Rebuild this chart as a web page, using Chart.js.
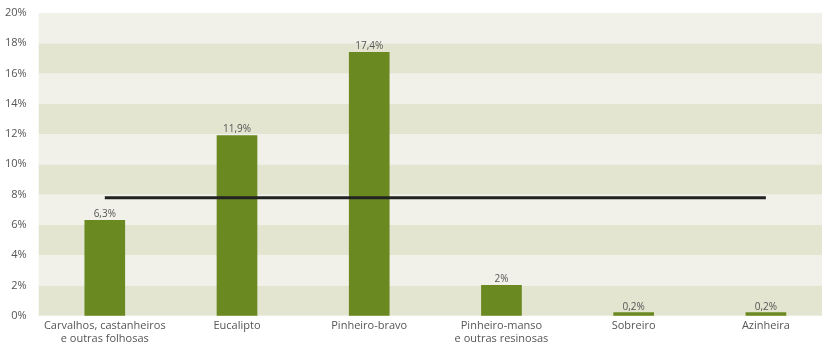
<!DOCTYPE html>
<html>
<head>
<meta charset="utf-8">
<script src="https://cdn.jsdelivr.net/npm/chart.js@4/dist/chart.umd.min.js"></script>
<style>
  html, body { margin: 0; padding: 0; background: #fff; overflow: hidden; }
  #wrap { width: 832px; height: 344px; }
</style>
</head>
<body>
<div id="wrap"><canvas id="grafico"></canvas></div>
<script>
const categorias = [
    ['Carvalhos, castanheiros', 'e outras folhosas'],
    'Eucalipto',
    'Pinheiro-bravo',
    ['Pinheiro-manso', 'e outras resinosas'],
    'Sobreiro',
    'Azinheira'
];
const valores = [6.3, 11.9, 17.4, 2, 0.2, 0.2];
const media = [7.8, 7.8, 7.8, 7.8, 7.8, 7.8];
const ticksY = [0, 2, 4, 6, 8, 10, 12, 14, 16, 18, 20];

const fonte = "'Open Sans', sans-serif";

function Formata(v){
    return String(v).replace('.', ',') + '%';
}

// faixas alternadas no fundo da area do grafico
const faixas = {
    id: 'faixas',
    beforeDraw(chart){
        const ctx = chart.ctx;
        const area = chart.chartArea;
        const y = chart.scales.y;
        ctx.save();
        for(let i = 0; i < ticksY.length - 1; i++){
            const topo = y.getPixelForValue(ticksY[i + 1]);
            const base = y.getPixelForValue(ticksY[i]);
            ctx.fillStyle = (i % 2 == 0) ? '#e3e5d0' : '#f1f1e9';
            ctx.fillRect(area.left, topo, area.right - area.left, base - topo);
        }
        ctx.restore();
    }
};

// rotulos com o valor por cima das barras
const rotulos = {
    id: 'rotulos',
    afterDatasetsDraw(chart){
        const ctx = chart.ctx;
        const meta = chart.getDatasetMeta(1);
        ctx.save();
        ctx.font = '10px ' + fonte;
        ctx.fillStyle = '#555';
        ctx.textAlign = 'center';
        ctx.textBaseline = 'bottom';
        meta.data.forEach(function(barra, i){
            ctx.fillText(Formata(valores[i]), barra.x, barra.y - 1);
        });
        ctx.restore();
    }
};

const ctx = document.getElementById('grafico');
new Chart(ctx, {
    data: {
        labels: categorias,
        datasets: [
            {
                type: 'line',
                data: media,
                borderColor: '#222',
                borderWidth: 3,
                pointRadius: 0,
                order: 0
            },
            {
                type: 'bar',
                data: valores,
                backgroundColor: '#6b8921',
                barThickness: 40,
                order: 1
            }
        ]
    },
    options: {
        responsive: true,
        maintainAspectRatio: false,
        animation: false,
        layout: { padding: { top: 13, left: 1, right: 0, bottom: -5 } },
        plugins: {
            legend: { display: false },
            tooltip: { enabled: false }
        },
        scales: {
            x: {
                grid: { display: false, drawTicks: false },
                border: { display: false },
                ticks: {
                    color: '#555',
                    font: { family: fonte, size: 11, lineHeight: 1.15 },
                    maxRotation: 0,
                    autoSkip: false,
                    padding: 4
                }
            },
            y: {
                min: 0,
                max: 20,
                grid: { display: false },
                border: { display: false },
                ticks: {
                    stepSize: 2,
                    color: '#555',
                    font: { family: fonte, size: 11 },
                    padding: 4,
                    callback: function(v){ return v + '%'; }
                }
            }
        }
    },
    plugins: [faixas, rotulos]
});
</script>
</body>
</html>
